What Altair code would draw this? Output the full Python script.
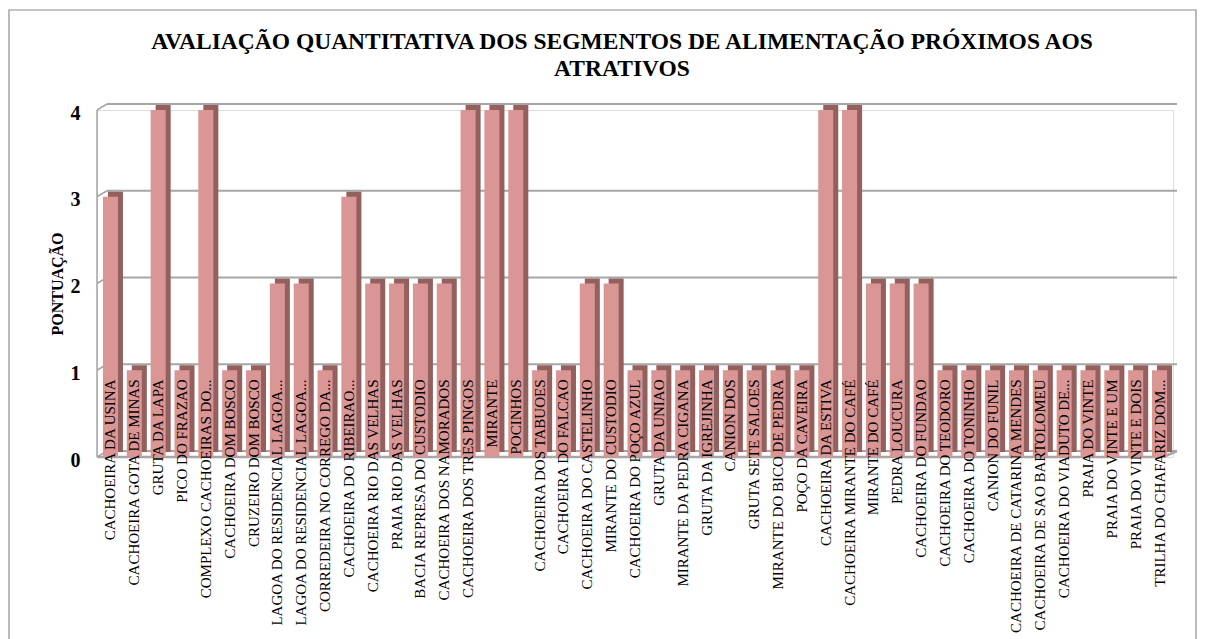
import json
import altair as alt
import pandas as pd

categories = [
    "CACHOEIRA DA USINA",
    "CACHOEIRA GOTA DE MINAS",
    "GRUTA DA LAPA",
    "PICO DO FRAZAO",
    "COMPLEXO CACHOEIRAS DO...",
    "CACHOEIRA DOM BOSCO",
    "CRUZEIRO DOM BOSCO",
    "LAGOA DO RESIDENCIAL LAGOA...",
    "LAGOA DO RESIDENCIAL LAGOA...",
    "CORREDEIRA NO CORREGO DA...",
    "CACHOEIRA DO RIBEIRAO...",
    "CACHOEIRA RIO DAS VELHAS",
    "PRAIA RIO DAS VELHAS",
    "BACIA REPRESA DO CUSTODIO",
    "CACHOEIRA DOS NAMORADOS",
    "CACHOEIRA DOS TRES PINGOS",
    "MIRANTE",
    "POCINHOS",
    "CACHOEIRA DOS TABUOES",
    "CACHOEIRA DO FALCAO",
    "CACHOEIRA DO CASTELINHO",
    "MIRANTE DO CUSTODIO",
    "CACHOEIRA DO POÇO AZUL",
    "GRUTA DA UNIAO",
    "MIRANTE DA PEDRA CIGANA",
    "GRUTA DA IGREJINHA",
    "CANION DOS",
    "GRUTA SETE SALOES",
    "MIRANTE DO BICO DE PEDRA",
    "POÇO DA CAVEIRA",
    "CACHOEIRA DA ESTIVA",
    "CACHOEIRA MIRANTE DO CAFÉ",
    "MIRANTE DO CAFÉ",
    "PEDRA LOUCURA",
    "CACHOEIRA DO FUNDAO",
    "CACHOEIRA DO TEODORO",
    "CACHOEIRA DO TONINHO",
    "CANION DO FUNIL",
    "CACHOEIRA DE CATARINA MENDES",
    "CACHOEIRA DE SAO BARTOLOMEU",
    "CACHOEIRA DO VIADUTO DE...",
    "PRAIA DO VINTE",
    "PRAIA DO VINTE E UM",
    "PRAIA DO VINTE E DOIS",
    "TRILHA DO CHAFARIZ DOM...",
]

values = [3, 1, 4, 1, 4, 1, 1, 2, 2, 1, 3, 2, 2, 2, 2, 4, 4, 4, 1, 1, 2, 2, 1, 1, 1,
          1, 1, 1, 1, 1, 4, 4, 2, 2, 2, 1, 1, 1, 1, 1, 1, 1, 1, 1, 1]

tick_values = [0, 1, 2, 3, 4]
title_lines = ["AVALIAÇÃO QUANTITATIVA DOS SEGMENTOS DE ALIMENTAÇÃO PRÓXIMOS AOS",
               "ATRATIVOS"]
y_title = "PONTUAÇÃO"

df = pd.DataFrame({"ordem": list(range(len(categories))), "pontuacao": values})
grid_df = pd.DataFrame({"pontuacao": tick_values})
floor_df = pd.DataFrame({"pontuacao": [0], "topo": [4]})
one = pd.DataFrame({"a": [0]})

FONT = "Liberation Serif"
GRID = "#A6A6A6"
FRONT = "#D99694"
SIDE = "#94605E"

label_expr = "[" + ",".join(json.dumps(c, ensure_ascii=False) for c in categories) + "][datum.value]"

xscale = alt.Scale(paddingInner=0.37, paddingOuter=0.25)
yscale = alt.Scale(domain=[0, 4], nice=False, zero=True)

xaxis = alt.Axis(title=None, labelAngle=-90, labelAlign="right", labelBaseline="middle",
                 labelPadding=-78, ticks=False, domain=False, labelFont=FONT,
                 labelFontSize=15, labelColor="black", labelLimit=400,
                 labelOverlap=False, labelExpr=label_expr, zindex=1, grid=False)
yaxis = alt.Axis(title=y_title, values=tick_values, format="d", grid=False, ticks=False,
                 domain=False, labelFont=FONT, labelFontSize=20, labelFontWeight="bold",
                 labelPadding=17, labelOffset=3, labelColor="black",
                 titleFont=FONT, titleFontSize=16, titleFontWeight="bold",
                 titleColor="black", titleX=-40, titleY=173.5, titleAngle=270,
                 titleAlign="center", titleBaseline="middle")


def Y(field):
    return alt.Y(field, type="quantitative", scale=yscale, axis=yaxis, title=y_title)


def X():
    return alt.X("ordem:O", scale=xscale, axis=xaxis, title=None)


border = alt.Chart(one).mark_rect(fillOpacity=0, stroke="#8C8C8C", strokeWidth=1.2).encode(
    x=alt.value(-88), x2=alt.value(1099), y=alt.value(-100), y2=alt.value(600))

back_grid = alt.Chart(grid_df).mark_rule(color=GRID, strokeWidth=2, yOffset=-6).encode(
    x=alt.value(10), x2=alt.value(1080), y=Y("pontuacao"))

left_diag = alt.Chart(grid_df).mark_rule(color=GRID, strokeWidth=1.5, y2Offset=-6).encode(
    x=alt.value(0), x2=alt.value(10), y=Y("pontuacao"), y2="pontuacao:Q")

left_edge = alt.Chart(floor_df).mark_rule(color=GRID, strokeWidth=1.5).encode(
    x=alt.value(0), y=Y("pontuacao"), y2="topo:Q")

floor_front = alt.Chart(floor_df).mark_rule(color=GRID, strokeWidth=2.5).encode(
    x=alt.value(0), x2=alt.value(1066), y=Y("pontuacao"))

floor_right = alt.Chart(floor_df).mark_rule(color=GRID, strokeWidth=2.5, y2Offset=-6).encode(
    x=alt.value(1066), x2=alt.value(1080), y=Y("pontuacao"), y2="pontuacao:Q")

side = alt.Chart(df).mark_bar(color=SIDE, xOffset=5, yOffset=-5, y2Offset=-5).encode(
    x=X(), y=Y("pontuacao"))

front = alt.Chart(df).mark_bar(color=FRONT).encode(x=X(), y=Y("pontuacao"))

chart = alt.layer(border, back_grid, left_diag, left_edge, floor_front, floor_right, side, front).properties(
    width=1076, height=347,
    title=alt.TitleParams(text=title_lines, font=FONT, fontSize=23.5, fontWeight="bold",
                          color="black", anchor="middle", frame="group", dx=-13, dy=71,
                          lineHeight=27, offset=0),
    autosize=alt.AutoSizeParams(type="none"),
    padding={"left": 89, "top": 102, "right": 24, "bottom": 182},
).configure_view(stroke=None).configure(
    background="white", font=FONT
).configure_title(font=FONT, fontSize=23.5, fontWeight="bold", color="black"
).configure_axis(titleFont=FONT, labelFont=FONT)

chart.save("out.html", embed_options={"renderer": "svg", "actions": False})
